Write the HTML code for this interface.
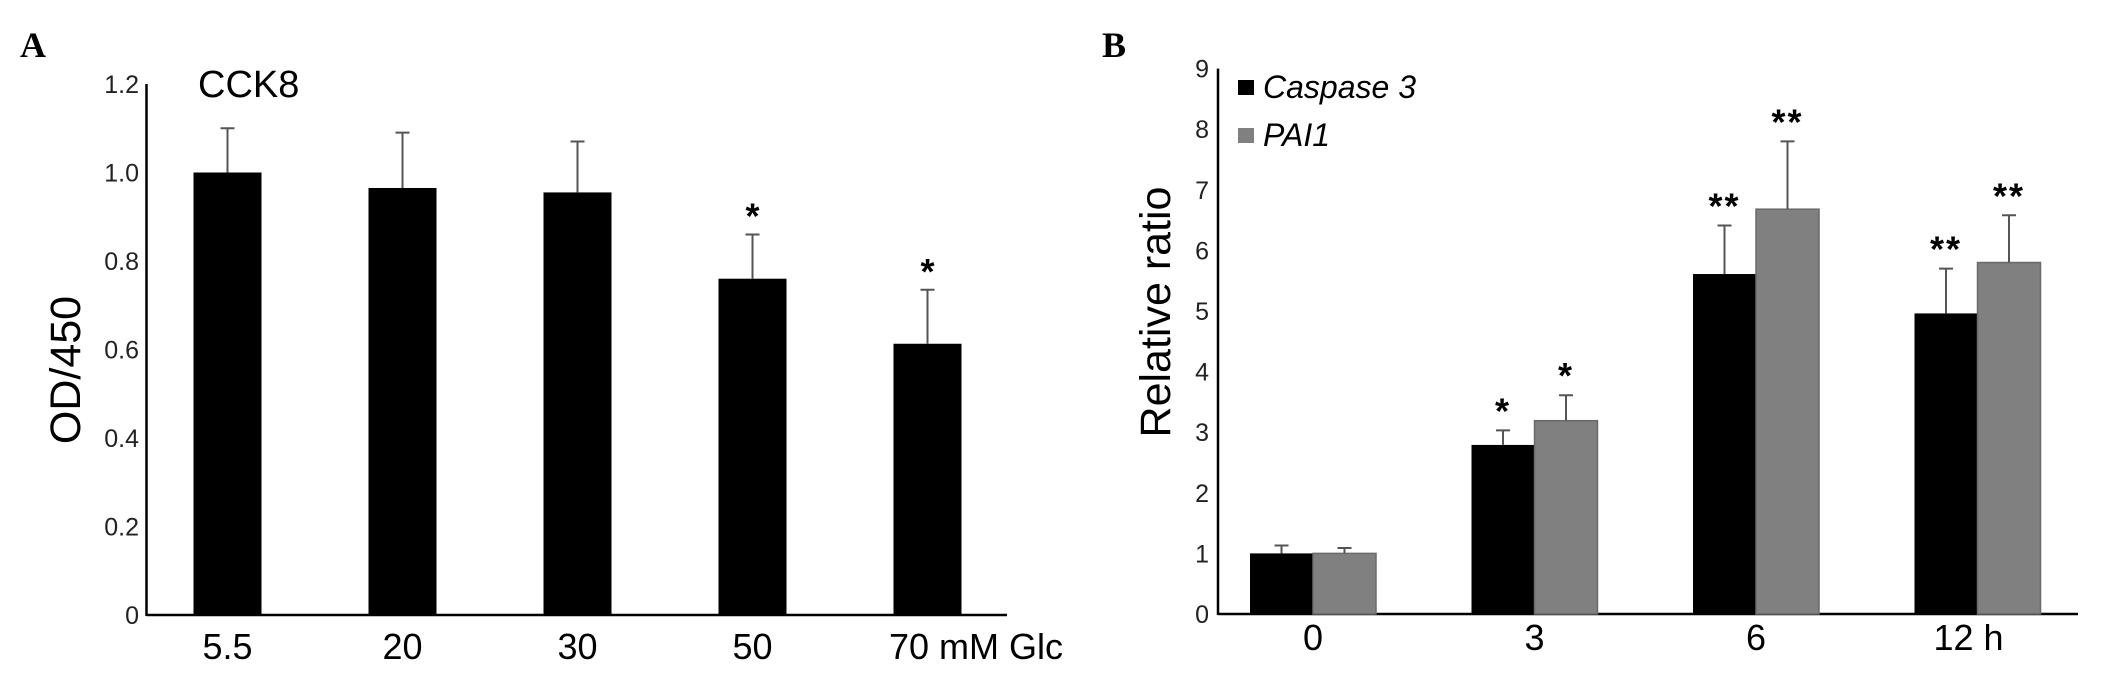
<!DOCTYPE html>
<html><head><meta charset="utf-8">
<style>
html,body{margin:0;padding:0;background:#fff;}
svg{display:block;font-family:"Liberation Sans",Arial,sans-serif;}
</style></head>
<body>
<svg id="fig" width="2126" height="694" viewBox="0 0 2126 694">
  <text x="20" y="57" font-family="Liberation Serif,serif" font-weight="bold" font-size="36">A</text>
  <text x="1102" y="57" font-family="Liberation Serif,serif" font-weight="bold" font-size="36">B</text>
  <g id="chartA"></g>
  <g id="chartB"></g>
</svg>
<script>
// Panel A data
const catsA = ["5.5","20","30","50","70 mM Glc"];
const valsA = [1.00, 0.965, 0.955, 0.76, 0.613];
const errA  = [0.10, 0.125, 0.115, 0.10, 0.122];
const starsA = ["","","","*","*"];
const ticksA = ["0","0.2","0.4","0.6","0.8","1.0","1.2"];
const tickValsA = [0,0.2,0.4,0.6,0.8,1.0,1.2];

// Panel B data
const catsB = ["0","3","6","12 h"];
const casp = [1.0, 2.79, 5.61, 4.96];
const caspErr = [0.13, 0.24, 0.80, 0.74];
const pai = [1.0, 3.19, 6.68, 5.80];
const paiErr = [0.09, 0.42, 1.12, 0.78];
const caspStars = ["","*","**","**"];
const paiStars = ["","*","**","**"];
const ticksB = [0,1,2,3,4,5,6,7,8,9];

const NS = "http://www.w3.org/2000/svg";
function mk(parent, tag, attrs, text){
  const e = document.createElementNS(NS, tag);
  for (const k in attrs) e.setAttribute(k, attrs[k]);
  if (text !== undefined) e.textContent = text;
  parent.appendChild(e);
  return e;
}

// ---------- Panel A ----------
(function(){
  const g = document.getElementById('chartA');
  const x0 = 146.5, y0 = 615, pxPerUnit = 442.5;
  const yA = v => y0 - v * pxPerUnit;
  const xA = i => 227.5 + i * 175;
  const bw = 68;
  let e;
  e = mk(g,'line',{x1:x0,y1:yA(1.2),x2:x0,y2:y0+1,stroke:'#000','stroke-width':2.5});
  
  
  e = mk(g,'line',{x1:x0,y1:y0,x2:1007,y2:y0,stroke:'#000','stroke-width':2.5});
  
  
  tickValsA.forEach((v,i)=>{
    const t = mk(g,'text',{x:139,y:yA(v)+9,'text-anchor':'end','font-size':25,fill:'#222'},ticksA[i]);
    
    
  });
  e = mk(g,'text',{x:0,y:0,'text-anchor':'middle','font-size':43,transform:'translate(80,370) rotate(-90)'},'OD/450');
  
  
  e = mk(g,'text',{x:198,y:97,'font-size':38},'CCK8');
  
  
  valsA.forEach((v,i)=>{
    const cx = xA(i);
    const r = mk(g,'rect',{x:cx-bw/2,y:yA(v),width:bw,height:y0-yA(v),fill:'#000'});
    
    
    const et = yA(v+errA[i]);
    const l = mk(g,'path',{d:`M${cx} ${yA(v)} V${et} M${cx-7} ${et} H${cx+7}`,stroke:'#555','stroke-width':2,fill:'none'});
    
    
    if (starsA[i]) {
      const s = mk(g,'text',{x:cx,y:et-6,'text-anchor':'middle','font-size':36,'font-weight':'bold'},starsA[i]);
      
      
    }
    const lbl = mk(g,'text',{x:(i===4?889:cx),y:659,'text-anchor':(i===4?'start':'middle'),'font-size':36},catsA[i]);
    
    
  });
})();

// ---------- Panel B ----------
(function(){
  const g = document.getElementById('chartB');
  const x0 = 1218, y0 = 614, pxPerUnit = 60.6;
  const yB = v => y0 - v * pxPerUnit;
  const gx = i => 1313 + i * 221.5;
  const bw = 63;
  let e;
  e = mk(g,'line',{x1:x0,y1:yB(9),x2:x0,y2:y0+1,stroke:'#000','stroke-width':2.5});
  
  
  e = mk(g,'line',{x1:x0,y1:y0,x2:2078,y2:y0,stroke:'#000','stroke-width':2.5});
  
  
  ticksB.forEach(v=>{
    const t = mk(g,'text',{x:1209,y:yB(v)+9,'text-anchor':'end','font-size':25,fill:'#222'},String(v));
    
    
  });
  e = mk(g,'text',{x:0,y:0,'text-anchor':'middle','font-size':43,transform:'translate(1170,312) rotate(-90)'},'Relative ratio');
  
  
  e = mk(g,'rect',{x:1238,y:80,width:16,height:15,fill:'#000'});
  
  
  e = mk(g,'text',{x:1263,y:98,'font-size':32,'font-style':'italic'},'Caspase 3');
  
  
  e = mk(g,'rect',{x:1238,y:128,width:16,height:15,fill:'#808080'});
  
  
  e = mk(g,'text',{x:1263,y:146,'font-size':32,'font-style':'italic'},'PAI1');
  
  

  function drawBar(cx, v, err, star, fill, name){
    const r = mk(g,'rect',{x:cx-bw/2,y:yB(v),width:bw,height:y0-yB(v),fill:fill,stroke:(fill==='#000'?'none':'#6a6a6a'),'stroke-width':1.5});
    
    
    const et = yB(v+err);
    const l = mk(g,'path',{d:`M${cx} ${yB(v)} V${et} M${cx-7} ${et} H${cx+7}`,stroke:'#555','stroke-width':2,fill:'none'});
    
    
    if (star) {
      const s = mk(g,'text',{x:cx,y:et-7,'text-anchor':'middle','font-size':36,'font-weight':'bold','letter-spacing':'2'},star);
      
      
    }
  }
  catsB.forEach((c,i)=>{
    const cx = gx(i);
    drawBar(cx-bw/2, casp[i], caspErr[i], caspStars[i], '#000', 'bar-caspase3-'+i);
    drawBar(cx+bw/2, pai[i], paiErr[i], paiStars[i], '#808080', 'bar-pai1-'+i);
    const lbl = mk(g,'text',{x:(i===3?cx-9:cx),y:650,'text-anchor':'middle','font-size':36},c);
    
    
  });
})();
</script>
</body></html>
